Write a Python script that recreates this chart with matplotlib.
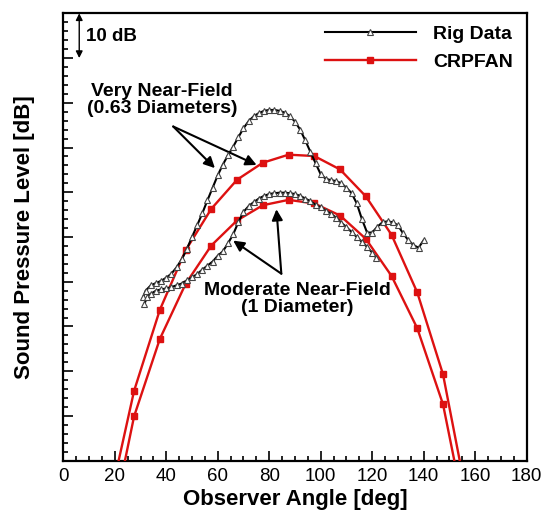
import matplotlib
matplotlib.use("Agg")
import matplotlib.pyplot as plt
from matplotlib.ticker import MultipleLocator, NullFormatter
from matplotlib.lines import Line2D

plt.rcParams['font.family'] = ['Liberation Sans', 'DejaVu Sans']

# ---------------- data ----------------
# CRPFAN prediction (red squares), very near-field (0.63 diameters)
crp_angle = [17.5, 27.5, 37.5, 47.5, 57.5, 67.5, 77.5, 87.5, 97.5, 107.5,
             117.5, 127.5, 137.5, 147.5, 157.5]
crp_vnf = [-10.4, 15.6, 33.7, 47.0, 56.3, 62.8, 66.6, 68.4, 68.1, 65.1,
           59.1, 50.5, 37.6, 19.3, -10.4]
# CRPFAN prediction, moderate near-field (1 diameter)
crp_mnf = [-18.0, 9.9, 27.2, 39.5, 48.1, 53.7, 57.1, 58.3, 57.5, 54.8,
           49.6, 41.3, 29.6, 12.6, -16.0]

# Rig data (black triangles), very near-field
rig_vnf_angle = [31, 32, 34, 36, 38, 40, 42, 44, 46, 48, 50, 52, 54, 56, 58,
                 60, 62, 64, 66, 68, 70, 72, 74, 76, 78, 80, 82, 84, 86, 88,
                 90, 92, 94, 96, 98, 100, 102, 104, 106, 108, 110, 112, 114,
                 116, 118, 120, 122, 124, 126, 128, 130, 132, 134, 136, 138, 140]
rig_vnf = [36.5, 38.0, 39.2, 39.7, 40.2, 40.9, 41.8, 43.2, 45.0, 47.3, 50.0,
           52.6, 55.3, 58.2, 61.0, 63.8, 66.2, 68.3, 70.2, 72.3, 74.3, 75.9,
           77.0, 77.7, 78.2, 78.4, 78.4, 78.2, 77.8, 77.0, 75.8, 74.0, 71.6,
           69.0, 66.5, 64.0, 63.0, 62.7, 62.5, 62.0, 61.0, 59.8, 57.5, 54.0,
           51.0, 51.0, 52.3, 53.3, 53.5, 53.3, 52.6, 50.8, 49.3, 48.2, 47.6, 49.3]

# Rig data, moderate near-field
rig_mnf_angle = [31.5, 32.5, 34, 36, 38, 40, 42, 44, 46, 48, 50, 52, 54, 56,
                 58, 60, 62, 64, 66, 68, 70, 72, 74, 76, 78, 80, 82, 84, 86,
                 88, 90, 92, 94, 96, 98, 100, 102, 104, 106, 108, 110, 112,
                 114, 116, 118, 120, 121.5]
rig_mnf = [35.0, 36.5, 37.3, 38.0, 38.3, 38.5, 38.8, 39.2, 39.6, 40.3, 41.0,
           41.7, 42.7, 43.6, 44.5, 45.8, 46.8, 48.6, 50.6, 53.3, 55.6, 56.9,
           57.8, 58.6, 59.2, 59.6, 59.8, 59.9, 59.9, 59.8, 59.6, 59.2, 58.6,
           58.0, 57.2, 56.6, 55.9, 55.2, 54.3, 53.2, 52.2, 51.1, 50.0, 48.9,
           47.8, 46.5, 45.4]

x_ticks = [0, 20, 40, 60, 80, 100, 120, 140, 160, 180]
legend_labels = ['Rig Data', 'CRPFAN']

# ---------------- style ----------------
RED = '#dd1111'
BLACK = '#000000'
black_kw = dict(color=BLACK, lw=1.5, marker='^', ms=5, mfc='white',
                mec='#444444', mew=0.8)
red_kw = dict(color=RED, lw=1.7, marker='s', ms=5, mfc=RED, mec=RED)

fig = plt.figure(figsize=(5.45, 5.12), dpi=100)
ax = fig.add_axes([0.1161, 0.1002, 0.8503, 0.8738])

ax.plot(crp_angle, crp_vnf, zorder=3, **red_kw)
ax.plot(crp_angle, crp_mnf, zorder=3, **red_kw)
ax.plot(rig_vnf_angle, rig_vnf, zorder=4, **black_kw)
ax.plot(rig_mnf_angle, rig_mnf, zorder=4, **black_kw)

ax.set_xlim(0, 180)
ax.set_ylim(0, 100)
ax.set_xticks(x_ticks)
ax.xaxis.set_minor_locator(MultipleLocator(5))
ax.yaxis.set_major_locator(MultipleLocator(10))
ax.yaxis.set_minor_locator(MultipleLocator(2))
ax.yaxis.set_major_formatter(NullFormatter())
ax.tick_params(which='both', direction='in', top=False, right=False,
               width=1.2)
ax.tick_params(which='major', length=7)
ax.tick_params(which='minor', length=3.5)
ax.tick_params(axis='x', labelsize=13.5, pad=5)
for s in ax.spines.values():
    s.set_linewidth(1.6)

ax.set_xlabel('Observer Angle [deg]', fontsize=16, fontweight='bold',
              labelpad=3)
ax.set_ylabel('Sound Pressure Level [dB]', fontsize=16, fontweight='bold',
              labelpad=17)

# 10 dB scale arrow
ax.annotate('', xy=(6.2, 100), xytext=(6.2, 90),
            arrowprops=dict(arrowstyle='<|-|>', color=BLACK, lw=1.0,
                            mutation_scale=10, shrinkA=0, shrinkB=0))
ax.text(9.0, 94.9, '10 dB', fontsize=13.5, fontweight='bold',
        ha='left', va='center')

# annotations
arrow_kw = dict(arrowstyle='-|>', color=BLACK, lw=1.5, mutation_scale=16,
                shrinkA=0, shrinkB=0)
ax.text(38.3, 80.6, 'Very Near-Field\n(0.63 Diameters)', fontsize=14,
        fontweight='bold', ha='center', va='center', linespacing=1.0)
ax.annotate('', xy=(58.9, 65.4), xytext=(42.7, 74.7), arrowprops=arrow_kw)
ax.annotate('', xy=(75.1, 66.1), xytext=(42.7, 74.7), arrowprops=arrow_kw)

ax.text(90.8, 36.1, 'Moderate Near-Field\n(1 Diameter)', fontsize=14,
        fontweight='bold', ha='center', va='center', linespacing=1.0)
ax.annotate('', xy=(66.0, 49.2), xytext=(84.7, 41.8), arrowprops=arrow_kw)
ax.annotate('', xy=(82.8, 56.2), xytext=(84.7, 41.8), arrowprops=arrow_kw)

handles = [Line2D([], [], **black_kw), Line2D([], [], **red_kw)]
leg = ax.legend(handles, legend_labels, loc='upper right',
                bbox_to_anchor=(1.009, 1.012), frameon=False, numpoints=1,
                handlelength=4.7, handletextpad=0.9, labelspacing=0.52,
                prop=dict(size=14, weight='bold'))

fig.savefig('out.png', dpi=100)
